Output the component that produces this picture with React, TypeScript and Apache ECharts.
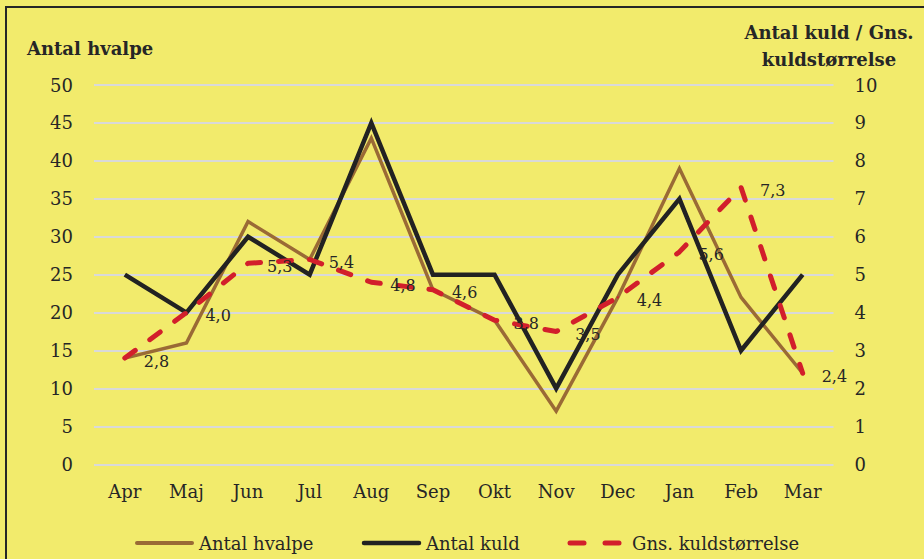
import React, { useEffect, useRef } from "react";
import * as echarts from "echarts";

const months = ["Apr", "Maj", "Jun", "Jul", "Aug", "Sep", "Okt", "Nov", "Dec", "Jan", "Feb", "Mar"];
const antalHvalpe = [14, 16, 32, 27, 43, 23, 19, 7, 22, 39, 22, 12];
const antalKuld = [5, 4, 6, 5, 9, 5, 5, 2, 5, 7, 3, 5];
const gnsKuld = [2.8, 4.0, 5.3, 5.4, 4.8, 4.6, 3.8, 3.5, 4.4, 5.6, 7.3, 2.4];
const seriesNames = ["Antal hvalpe", "Antal kuld", "Gns. kuldstørrelse"];

const FONT = "'DejaVu Serif', serif";
const TXT = "#262626";
const BROWN = "#9A6A35";
const BLACK = "#222222";
const RED = "#D21F2B";

export default function App() {
  const ref = useRef<HTMLDivElement>(null);
  useEffect(() => {
    if (!ref.current) return;
    const chart = echarts.init(ref.current, undefined, { renderer: "svg" });
    const legendY = 543;
    const legendText = (x: number, text: string) => ({
      type: "text",
      x,
      y: legendY,
      style: { text, font: `18px ${FONT}`, fill: TXT, verticalAlign: "middle" },
    });
    chart.setOption({
      animation: false,
      backgroundColor: "#F2EB6C",
      textStyle: { fontFamily: FONT, color: TXT },
      grid: { left: 94, right: 90.5, top: 85, bottom: 94.7 },
      graphic: [
        {
          type: "rect",
          shape: { x: 6, y: 7, width: 960, height: 600 },
          style: { fill: "none", stroke: "#262626", lineWidth: 2 },
          silent: true,
        },
        {
          type: "text",
          x: 27,
          y: 48,
          style: { text: "Antal hvalpe", font: `bold 18px ${FONT}`, fill: TXT, verticalAlign: "middle" },
        },
        {
          type: "text",
          x: 829,
          y: 19,
          style: {
            text: "Antal kuld / Gns.\nkuldstørrelse",
            font: `bold 18px ${FONT}`,
            fill: TXT,
            align: "center",
            lineHeight: 27,
          },
        },
        {
          type: "line",
          shape: { x1: 137, y1: legendY, x2: 192, y2: legendY },
          style: { stroke: BROWN, lineWidth: 4, lineCap: "round" },
        },
        legendText(199, seriesNames[0]),
        {
          type: "line",
          shape: { x1: 364, y1: legendY, x2: 419, y2: legendY },
          style: { stroke: BLACK, lineWidth: 4.5, lineCap: "round" },
        },
        legendText(426, seriesNames[1]),
        {
          type: "line",
          shape: { x1: 570, y1: legendY, x2: 584, y2: legendY },
          style: { stroke: RED, lineWidth: 5, lineCap: "round" },
        },
        {
          type: "line",
          shape: { x1: 605, y1: legendY, x2: 619, y2: legendY },
          style: { stroke: RED, lineWidth: 5, lineCap: "round" },
        },
        legendText(632, seriesNames[2]),
      ],
      xAxis: {
        type: "category",
        data: months,
        boundaryGap: true,
        axisLine: { show: false },
        axisTick: { show: false },
        axisLabel: { fontFamily: FONT, fontSize: 18, color: TXT, margin: 18 },
      },
      yAxis: [
        {
          type: "value",
          min: 0,
          max: 50,
          interval: 5,
          axisLine: { show: false },
          axisTick: { show: false },
          axisLabel: { fontFamily: FONT, fontSize: 18, color: TXT, margin: 21 },
          splitLine: { lineStyle: { color: "#D9D9D9", width: 2 } },
        },
        {
          type: "value",
          min: 0,
          max: 10,
          interval: 1,
          axisLine: { show: false },
          axisTick: { show: false },
          axisLabel: { fontFamily: FONT, fontSize: 18, color: TXT, margin: 21 },
          splitLine: { show: false },
        },
      ],
      series: [
        {
          name: seriesNames[0],
          type: "line",
          yAxisIndex: 0,
          data: antalHvalpe,
          symbol: "none",
          itemStyle: { color: BROWN },
          lineStyle: { color: BROWN, width: 3.5, join: "miter" },
        },
        {
          name: seriesNames[1],
          type: "line",
          yAxisIndex: 1,
          data: antalKuld,
          symbol: "none",
          itemStyle: { color: BLACK },
          lineStyle: { color: BLACK, width: 4.5, join: "miter" },
        },
        {
          name: seriesNames[2],
          type: "line",
          yAxisIndex: 1,
          data: gnsKuld,
          symbol: "circle",
          symbolSize: 2,
          showSymbol: true,
          itemStyle: { color: RED },
          lineStyle: { color: RED, width: 5, type: [13, 18], cap: "round" },
          label: {
            show: true,
            position: "right",
            distance: 18,
            offset: [0, 3],
            fontFamily: FONT,
            fontSize: 16,
            color: TXT,
            formatter: (p: any) => Number(p.value).toFixed(1).replace(".", ","),
          },
          z: 3,
        },
      ],
    });
    return () => chart.dispose();
  }, []);
  return (
    <div
      ref={ref}
      style={{ position: "fixed", left: 0, top: 0, width: 924, height: 559 }}
    />
  );
}
